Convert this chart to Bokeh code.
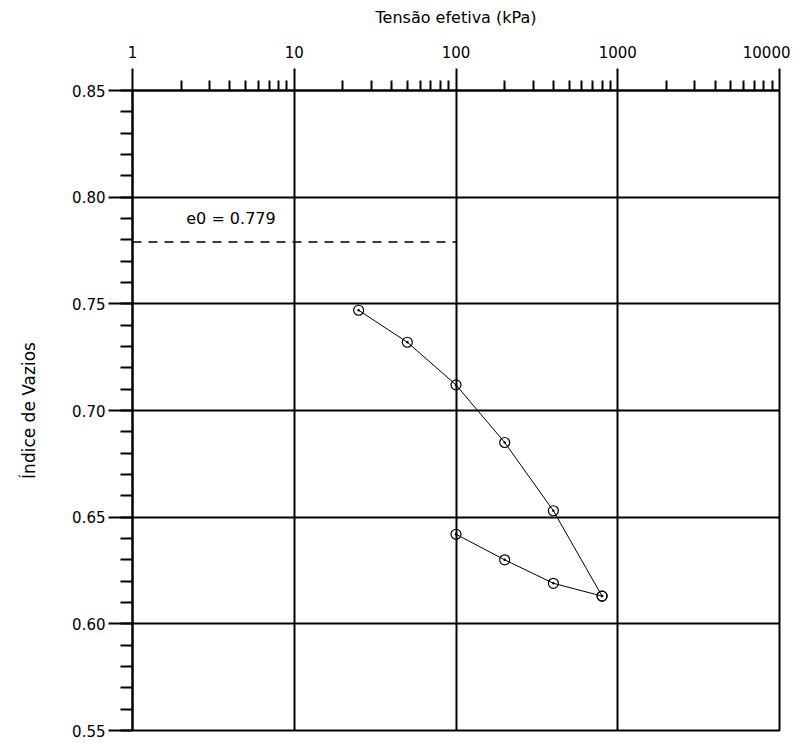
from bokeh.plotting import figure
from bokeh.models import FixedTicker, PrintfTickFormatter, Label, ColumnDataSource
from bokeh.embed import file_html
from bokeh.resources import INLINE

# Data
tensao_carga = [25, 50, 100, 200, 400, 800]
vazios_carga = [0.747, 0.732, 0.712, 0.685, 0.653, 0.613]
tensao_descarga = [800, 400, 200, 100]
vazios_descarga = [0.613, 0.619, 0.630, 0.642]

e0 = 0.779
e0_x = [1, 100]
e0_label = "e0 = 0.779"

x_ticks = [1, 10, 100, 1000, 10000]
y_ticks = [0.55, 0.60, 0.65, 0.70, 0.75, 0.80, 0.85]

x_minor = [d * m for d in [1, 10, 100, 1000] for m in range(2, 10)]
y_minor = [round(0.55 + 0.01 * i, 2) for i in range(31)]

FONT = "DejaVu Sans"

p = figure(width=790, height=742, x_axis_type="log", x_axis_location="above",
           x_range=(1, 10000), y_range=(0.55, 0.85),
           output_backend="svg", toolbar_location=None,
           min_border_left=132, min_border_right=11, min_border_top=90, min_border_bottom=12)

p.outline_line_color = "black"
p.outline_line_width = 2
p.outline_line_alpha = 1

# X axis (top)
xa = p.xaxis[0]
xa.ticker = FixedTicker(ticks=x_ticks, minor_ticks=x_minor)
xa.formatter = PrintfTickFormatter(format="%d")
xa.axis_label = "Tensão efetiva (kPa)"
xa.axis_label_text_font = FONT
xa.axis_label_text_font_size = "16px"
xa.axis_label_text_font_style = "normal"
xa.axis_label_standoff = 16
xa.major_label_text_font = FONT
xa.major_label_text_font_size = "15px"
xa.major_label_standoff = 11
xa.major_tick_out = 22
xa.major_tick_in = 0
xa.minor_tick_out = 10
xa.minor_tick_in = 0
xa.axis_line_width = 2
xa.major_tick_line_width = 2
xa.minor_tick_line_width = 2
xa.axis_line_color = "black"
xa.major_tick_line_color = "black"
xa.minor_tick_line_color = "black"
xa.major_label_text_color = "black"
xa.axis_label_text_color = "black"

# Y axis (left)
ya = p.yaxis[0]
ya.ticker = FixedTicker(ticks=y_ticks, minor_ticks=y_minor)
ya.formatter = PrintfTickFormatter(format="%.2f")
ya.axis_label = "Índice de Vazios"
ya.axis_label_text_font = FONT
ya.axis_label_text_font_size = "17px"
ya.axis_label_text_font_style = "normal"
ya.axis_label_standoff = 30
ya.major_label_text_font = FONT
ya.major_label_text_font_size = "15px"
ya.major_label_standoff = 3
ya.major_tick_out = 24
ya.major_tick_in = 0
ya.minor_tick_out = 12
ya.minor_tick_in = 0
ya.axis_line_width = 2
ya.major_tick_line_width = 2
ya.minor_tick_line_width = 2
ya.axis_line_color = "black"
ya.major_tick_line_color = "black"
ya.minor_tick_line_color = "black"
ya.major_label_text_color = "black"
ya.axis_label_text_color = "black"

# Grid
p.xgrid.ticker = FixedTicker(ticks=x_ticks)
p.ygrid.ticker = FixedTicker(ticks=y_ticks)
for g in (p.xgrid[0], p.ygrid[0]):
    g.grid_line_color = "black"
    g.grid_line_width = 2
    g.grid_line_alpha = 1

# e0 dashed line
p.line(e0_x, [e0, e0], line_color="black", line_width=1.5, line_dash="9 7")
p.add_layout(Label(x=2.15, y=0.790, text=e0_label, text_font=FONT, text_font_size="16px",
                   text_color="black", text_baseline="middle", text_align="left"))

# Curves
src_c = ColumnDataSource(dict(x=tensao_carga, y=vazios_carga))
src_d = ColumnDataSource(dict(x=tensao_descarga, y=vazios_descarga))
for src in (src_c, src_d):
    p.line("x", "y", source=src, line_color="black", line_width=1)
    p.scatter("x", "y", source=src, marker="circle_dot", size=10, line_color="black",
              fill_color=None, line_width=1.2)

open("out.html", "w").write(file_html(p, INLINE))
